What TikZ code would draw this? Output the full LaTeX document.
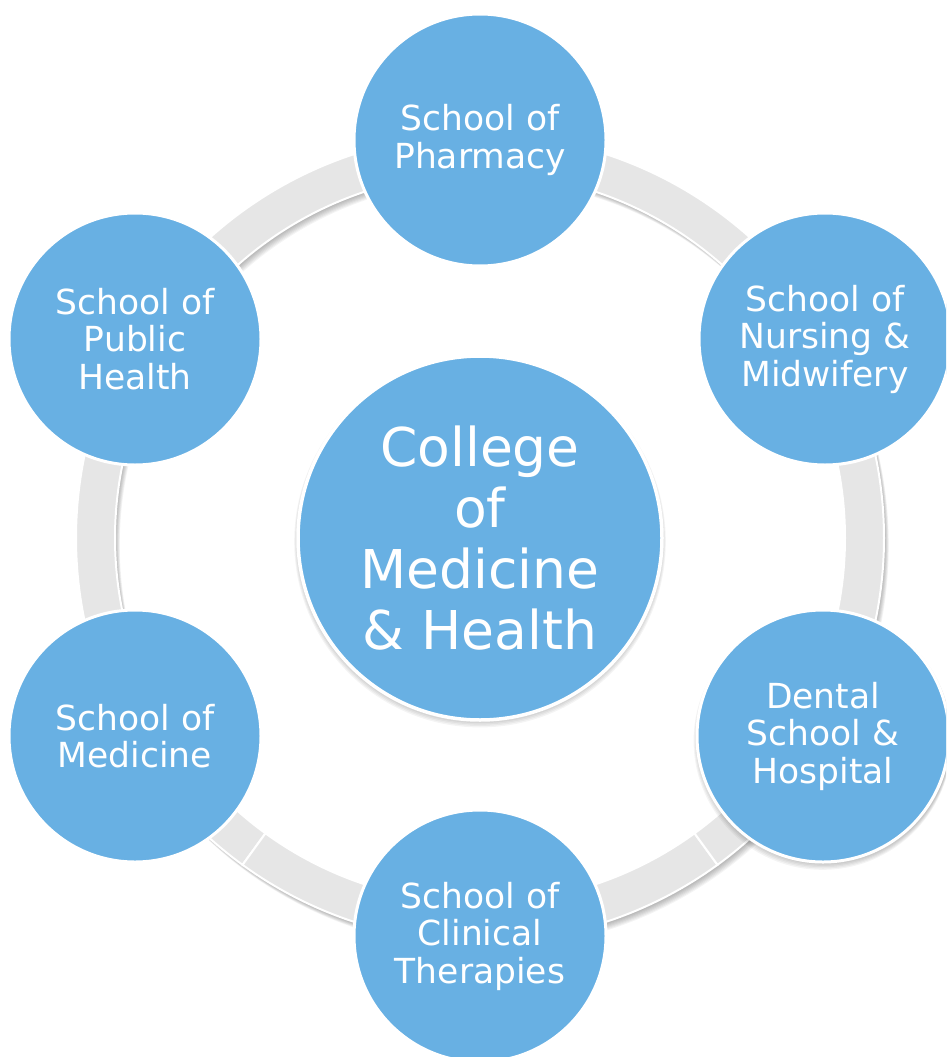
\documentclass[tikz,border=0pt]{standalone}
\usepackage{fontspec}
\setmainfont{DejaVu Sans}
\definecolor{blu}{RGB}{104,176,227}
\definecolor{ringgray}{RGB}{230,230,230}
\begin{document}
\begin{tikzpicture}[x=1pt,y=1pt,
  school/.style={circle, fill=blu, draw=white, line width=3pt, minimum size=252pt, inner sep=0pt, text=white, align=center, font=\fontsize{34.5}{37.5}\selectfont},
  hub/.style={circle, fill=blu, draw=white, line width=3.5pt, minimum size=364pt, inner sep=0pt, text=white, align=center, font=\fontsize{53.5}{61}\selectfont},
  seg/.style={fill=ringgray, draw=white, line width=2pt},
  shade/.style={fill=black, opacity=0.045}]
\useasboundingbox (0,0) rectangle (946,-1057);
\clip (0,0) rectangle (946,-1057);
% ring shadow
\foreach \k in {1,...,8} {
  \fill[shade, even odd rule, shift={({480+0.6*\k},{-538-0.9*\k})}] (0,0) circle[radius=404] (0,0) circle[radius=365];
}
% ring segments
\foreach \a/\b in {30/90,90/150,150/210,210/234,234/270,270/306,306/330,330/390} {
  \path[seg, shift={(480,-538)}] (\a:404) arc[start angle=\a, end angle=\b, radius=404] -- (\b:365) arc[start angle=\b, end angle=\a, radius=365] -- cycle;
}
% hub shadow
\foreach \k in {1,...,6} {
  \fill[shade] (480,{-538-0.6*\k}) circle[radius={181+0.8*\k}];
}
% dental shadow
\foreach \k in {1,...,6} {
  \fill[shade] ({825-0.4*\k},{-736-0.8*\k}) circle[radius={126+0.5*\k}];
}
\node[hub] (college) at (480,-538) {College\\of\\Medicine\\\& Health};
\node[school] (pharm) at (480,-140) {School of\\Pharmacy};
\node[school] (nurs) at (825,-339) {School of\\Nursing \&\\Midwifery};
\node[school] (dent) at (823,-736) {Dental\\School \&\\Hospital};
\node[school] (clin) at (480,-936) {School of\\Clinical\\Therapies};
\node[school] (med) at (135,-736) {School of\\Medicine};
\node[school] (pub) at (135,-339) {School of\\Public\\Health};
\end{tikzpicture}
\end{document}
